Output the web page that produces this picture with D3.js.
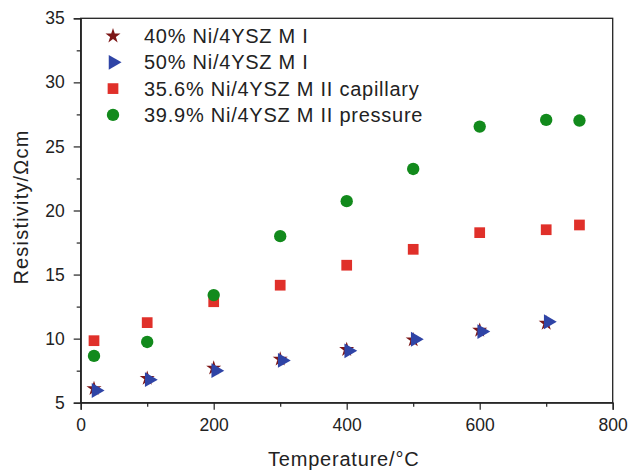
<!DOCTYPE html>
<html>
<head>
<meta charset="utf-8">
<script src="https://cdn.jsdelivr.net/npm/d3@7"></script>
<style>
  body { margin: 0; background: #fff; }
  svg text { font-family: "Liberation Sans", Arial, sans-serif; fill: #222; }
</style>
</head>
<body>
<div id="chart"></div>
<script>
// temperatures (°C) and resistivity (Ω·cm)
const tempsA = [20, 100, 200, 300, 400, 500, 600, 700];
const ni40MI = [6.1, 6.9, 7.7, 8.4, 9.15, 9.9, 10.65, 11.2];
const ni50MI = [5.95, 6.8, 7.5, 8.3, 9.05, 9.95, 10.55, 11.32];

const tempsB = [20, 100, 200, 300, 400, 500, 600, 700, 750];
const ni356Cap = [9.84, 11.25, 12.88, 14.17, 15.73, 16.97, 18.27, 18.5, 18.87];
const ni399Press = [8.65, 9.74, 13.4, 18.0, 20.73, 23.24, 26.55, 27.07, 27.02];

const seriesNames = [
    '40% Ni/4YSZ M I',
    '50% Ni/4YSZ M I',
    '35.6% Ni/4YSZ M II capillary',
    '39.9% Ni/4YSZ M II pressure'
];

const xTicks = [0, 200, 400, 600, 800];
const yTicks = [5, 10, 15, 20, 25, 30, 35];

const width = 630, height = 471;
const margin = { top: 18.3, right: 17.3, bottom: 68.3, left: 80.7 };
const w = width - margin.left - margin.right;
const h = height - margin.top - margin.bottom;

const svg = d3.select('#chart').append('svg')
    .attr('width', width)
    .attr('height', height);

const g = svg.append('g').attr('transform', `translate(${margin.left},${margin.top})`);

const x = d3.scaleLinear().domain([0, 800]).range([0, w]);
const y = d3.scaleLinear().domain([5, 35]).range([h, 0]);

// frame
g.append('rect')
    .attr('width', w).attr('height', h)
    .attr('fill', 'none').attr('stroke', '#222').attr('stroke-width', 1.3);

// x axis: major + minor ticks
g.append('g').attr('transform', `translate(0,${h})`)
    .call(d3.axisBottom(x).tickValues(xTicks).tickSize(7).tickPadding(9).tickFormat(d3.format('d')));
g.append('g').attr('transform', `translate(0,${h})`)
    .call(d3.axisBottom(x).tickValues([100, 300, 500, 700]).tickSize(4).tickFormat(''))
    .select('.domain').remove();

g.append('g')
    .call(d3.axisLeft(y).tickValues(yTicks).tickSize(7).tickPadding(9));
g.append('g')
    .call(d3.axisLeft(y).tickValues([7.5, 12.5, 17.5, 22.5, 27.5, 32.5]).tickSize(4).tickFormat(''))
    .select('.domain').remove();

g.selectAll('.domain').attr('stroke', '#222').attr('stroke-width', 1.3);
g.selectAll('.tick line').attr('stroke', '#222').attr('stroke-width', 1.2);
g.selectAll('.tick text').attr('font-size', 17.5).attr('fill', '#222')
    .style('font-family', '"Liberation Sans", Arial, sans-serif');

// axis titles
svg.append('text')
    .attr('x', margin.left + w / 2 - 3).attr('y', 466)
    .attr('text-anchor', 'middle').attr('font-size', 20)
    .attr('letter-spacing', 0.8)
    .text('Temperature/°C');

svg.append('text')
    .attr('transform', `translate(28,207) rotate(-90)`)
    .attr('text-anchor', 'middle').attr('font-size', 20)
    .attr('letter-spacing', 1.2)
    .text('Resistivity/Ωcm');

// series
const series = [
    { name: seriesNames[0], t: tempsA, v: ni40MI, sym: d3.symbolStar, size: 70, rot: 0, color: '#7d1616' },
    { name: seriesNames[1], t: tempsA, v: ni50MI, sym: d3.symbolTriangle, size: 95, rot: 90, color: '#2f44a6' },
    { name: seriesNames[2], t: tempsB, v: ni356Cap, sym: d3.symbolSquare, size: 115, rot: 0, color: '#e0302a' },
    { name: seriesNames[3], t: tempsB, v: ni399Press, sym: d3.symbolCircle, size: 120, rot: 0, color: '#128a1c' }
];

series.forEach(s => {
    const pts = s.t.map((t, i) => [t, s.v[i]]);
    g.append('g').selectAll('path')
        .data(pts)
        .enter()
        .append('path')
        .attr('d', d3.symbol().type(s.sym).size(s.size))
        .attr('transform', d => `translate(${x(d[0]) + (s.rot ? 2 : 0)},${y(d[1])}) rotate(${s.rot})`)
        .attr('fill', s.color);
});

// legend
const legend = svg.append('g').attr('transform', 'translate(113,36)');
series.forEach((s, i) => {
    const row = legend.append('g').attr('transform', `translate(0,${i * 26.3})`);
    row.append('path')
        .attr('d', d3.symbol().type(s.sym).size(s.size))
        .attr('transform', `rotate(${s.rot})`)
        .attr('fill', s.color);
    row.append('text')
        .attr('x', 31).attr('y', 7)
        .attr('font-size', 20)
        .attr('letter-spacing', 0.75)
        .text(s.name);
});
</script>
</body>
</html>
